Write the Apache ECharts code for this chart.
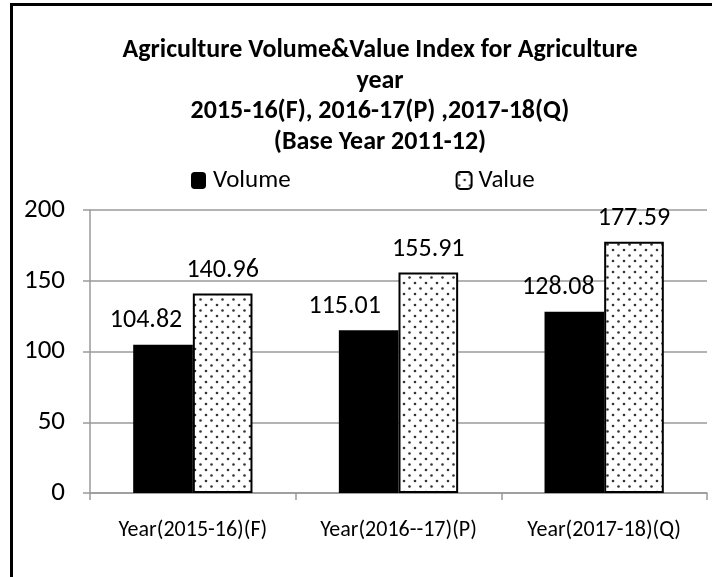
<!DOCTYPE html>
<html>
<head>
<meta charset="utf-8">
<script src="https://cdn.jsdelivr.net/npm/echarts@6/dist/echarts.min.js"></script>
<style>
html, body { margin: 0; padding: 0; background: #fff; }
#chart { width: 712px; height: 577px; }
</style>
</head>
<body>
<div id="chart"></div>
<script>
// 数据
var categories = ['Year(2015-16)(F)', 'Year(2016--17)(P)', 'Year(2017-18)(Q)'];
var volumeData = [104.82, 115.01, 128.08];
var valueData = [140.96, 155.91, 177.59];
var seriesNames = ['Volume', 'Value'];

var FONT = 'Carlito, Lato, sans-serif';
var GREY = '#9a9a9a';

// 点状填充
function makeDots() {
    var c = document.createElement('canvas');
    c.width = 11;
    c.height = 11;
    var ctx = c.getContext('2d');
    ctx.fillStyle = '#fff';
    ctx.fillRect(0, 0, 11, 11);
    ctx.fillStyle = '#333';
    ctx.beginPath();
    ctx.arc(2.5, 2.5, 1.3, 0, Math.PI * 2);
    ctx.fill();
    ctx.beginPath();
    ctx.arc(8, 8, 1.3, 0, Math.PI * 2);
    ctx.fill();
    return c;
}
var dotPattern = { image: makeDots(), repeat: 'repeat' };

// 手动挪过位置的标签
var volumeOffsets = [[-17, 0], [-24, 0], [-16, 0]];

var chart = echarts.init(document.getElementById('chart'));
var option = {
    animation: false,
    textStyle: { fontFamily: FONT },
    title: {
        text: 'Agriculture Volume&Value Index for Agriculture\nyear\n2015-16(F), 2016-17(P) ,2017-18(Q)\n(Base Year 2011-12)',
        left: 375,
        top: 30,
        textAlign: 'center',
        textStyle: {
            fontFamily: FONT,
            fontWeight: 'bold',
            fontSize: 26,
            lineHeight: 30.7,
            color: '#000'
        }
    },
    legend: {
        left: 186,
        top: 163,
        itemWidth: 15,
        itemHeight: 17,
        itemGap: 165,
        textStyle: { fontFamily: FONT, fontSize: 25, color: '#000', padding: [0, 0, 0, 2] },
        data: seriesNames
    },
    graphic: [{
        type: 'rect',
        shape: { x: 11.5, y: 4.5, width: 800, height: 700 },
        style: { fill: 'none', stroke: '#000', lineWidth: 3 },
        silent: true
    }],
    grid: { left: 90, right: 5, top: 210, bottom: 84 },
    xAxis: {
        type: 'category',
        data: categories,
        axisLine: { lineStyle: { color: GREY, width: 1.5 } },
        axisTick: { show: true, length: 7, lineStyle: { color: GREY, width: 1.5 } },
        axisLabel: { color: '#000', fontSize: 22, fontFamily: FONT, margin: 26 }
    },
    yAxis: {
        type: 'value',
        min: 0,
        max: 200,
        interval: 50,
        axisLine: { show: true, lineStyle: { color: GREY, width: 1.5 } },
        axisTick: { show: true, length: 7, lineStyle: { color: GREY, width: 1.5 } },
        splitLine: { lineStyle: { color: GREY, width: 1.5 } },
        axisLabel: { color: '#000', fontSize: 27, fontFamily: FONT, margin: 25 }
    },
    series: [
        {
            name: seriesNames[0],
            type: 'bar',
            barGap: '0%',
            barCategoryGap: '42%',
            itemStyle: { color: '#000' },
            label: {
                show: true,
                position: 'top',
                distance: 11,
                color: '#000',
                fontSize: 26,
                fontFamily: FONT
            },
            data: volumeData.map(function (v, i) {
                return { value: v, label: { offset: volumeOffsets[i] } };
            })
        },
        {
            name: seriesNames[1],
            type: 'bar',
            itemStyle: { color: dotPattern, borderColor: '#000', borderWidth: 2 },
            label: {
                show: true,
                position: 'top',
                distance: 10,
                color: '#000',
                fontSize: 26,
                fontFamily: FONT
            },
            data: valueData
        }
    ]
};
chart.setOption(option);
</script>
</body>
</html>
